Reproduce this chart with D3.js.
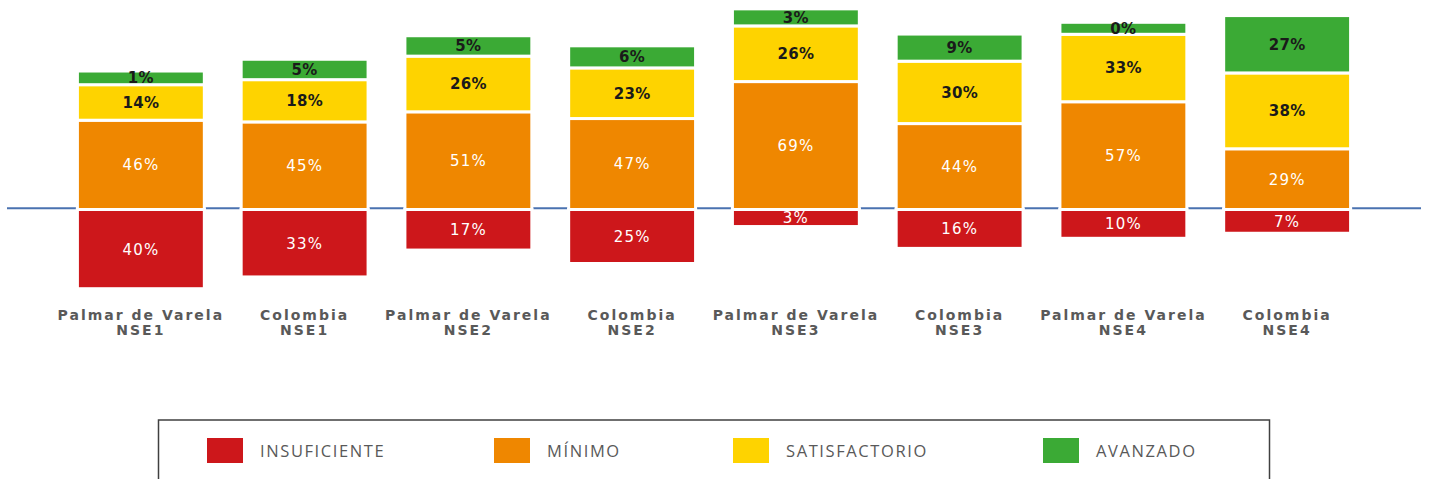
<!DOCTYPE html>
<meta charset="utf-8">
<title>Niveles de desempeño por NSE</title>
<script src="https://d3js.org/d3.v7.min.js"></script>
<style>
    body { margin: 0; background: #fff; }
    svg { display: block; }
</style>
<body>
<script>
    // grupos (dos lineas por etiqueta)
    const places = ["Palmar de Varela", "Colombia", "Palmar de Varela", "Colombia",
                    "Palmar de Varela", "Colombia", "Palmar de Varela", "Colombia"];
    const nse = ["NSE1", "NSE1", "NSE2", "NSE2", "NSE3", "NSE3", "NSE4", "NSE4"];

    // porcentajes por nivel
    const insuficiente  = [40, 33, 17, 25, 3, 16, 10, 7];
    const minimo        = [46, 45, 51, 47, 69, 44, 57, 29];
    const satisfactorio = [14, 18, 26, 23, 26, 30, 33, 38];
    const avanzado      = [1, 5, 5, 6, 3, 9, 0, 27];

    const levels = ["INSUFICIENTE", "MÍNIMO", "SATISFACTORIO", "AVANZADO"];
    const colors = ["#cd171b", "#ef8700", "#fed300", "#3baa35"];

    const W = 1429, H = 479;
    const base = 209.5;   // linea del cero

    const svg = d3.select("body").append("svg").attr("width", W).attr("height", H);

    const keys = places.map((p, i) => i);
    const x = d3.scaleBand().domain(keys).range([7, 1421])
        .paddingInner(0.225).paddingOuter(0.43);

    // largo de cada segmento (el grafico original agrega un minimo fijo por segmento)
    const len = d3.scaleLinear().domain([0, 100]).range([12, 180]);

    // eje horizontal
    svg.append("line")
        .attr("x1", 7).attr("x2", 1421)
        .attr("y1", base - 1.2).attr("y2", base - 1.2)
        .attr("stroke", "#4a72b0").attr("stroke-width", 2);

    // construir segmentos
    let segs = [];
    keys.forEach(i => {
        // negativo: insuficiente
        segs.push({ i: i, lvl: 0, v: insuficiente[i], y: base, h: len(insuficiente[i]) });
        let top = base;
        [[1, minimo[i]], [2, satisfactorio[i]], [3, avanzado[i]]].forEach(([lvl, v]) => {
            const h = len(v);
            top -= h;
            segs.push({ i: i, lvl: lvl, v: v, y: top, h: h });
        });
    });

    const g = svg.append("g");
    g.selectAll("rect").data(segs).enter().append("rect")
        .attr("x", d => x(d.i))
        .attr("y", d => d.y)
        .attr("width", x.bandwidth())
        .attr("height", d => d.h)
        .attr("fill", d => colors[d.lvl])
        .attr("stroke", "#fff")
        .attr("stroke-width", 3);

    g.selectAll("text").data(segs).enter().append("text")
        .attr("x", d => x(d.i) + x.bandwidth() / 2)
        .attr("y", d => d.y + d.h / 2)
        .attr("dy", "0.36em")
        .attr("text-anchor", "middle")
        .style("font-family", "DejaVu Sans, Verdana, sans-serif")
        .style("font-size", "15px")
        .style("font-weight", d => d.lvl >= 2 ? "bold" : "normal")
        .style("letter-spacing", d => d.lvl >= 2 ? "0.3px" : "1.2px")
        .attr("fill", d => d.lvl >= 2 ? "#1a1a1a" : "#fff")
        .text(d => d.v + "%");

    // etiquetas de categoria
    const cat = svg.append("g").selectAll("text").data(keys).enter().append("text")
        .attr("text-anchor", "middle")
        .style("font-family", "DejaVu Sans, Verdana, sans-serif")
        .style("font-size", "14px")
        .style("font-weight", "bold")
        .style("letter-spacing", "2px")
        .attr("fill", "#595959");
    cat.append("tspan")
        .attr("x", d => x(d) + x.bandwidth() / 2).attr("y", 320)
        .text(d => places[d]);
    cat.append("tspan")
        .attr("x", d => x(d) + x.bandwidth() / 2).attr("y", 334.5)
        .text(d => nse[d]);

    // leyenda
    svg.append("rect")
        .attr("x", 158.5).attr("y", 420)
        .attr("width", 1111).attr("height", 80)
        .attr("fill", "none").attr("stroke", "#404040").attr("stroke-width", 1.5);

    const legendX = [207, 494, 733, 1043];
    levels.forEach((name, k) => {
        svg.append("rect")
            .attr("x", legendX[k]).attr("y", 438)
            .attr("width", 36).attr("height", 25)
            .attr("fill", colors[k]);
        svg.append("text")
            .attr("x", legendX[k] + 53).attr("y", 457)
            .style("font-family", "Open Sans, sans-serif")
            .style("font-size", "16.5px")
            .style("letter-spacing", "1.6px")
            .attr("fill", "#595959")
            .text(name);
    });
</script>
</body>
